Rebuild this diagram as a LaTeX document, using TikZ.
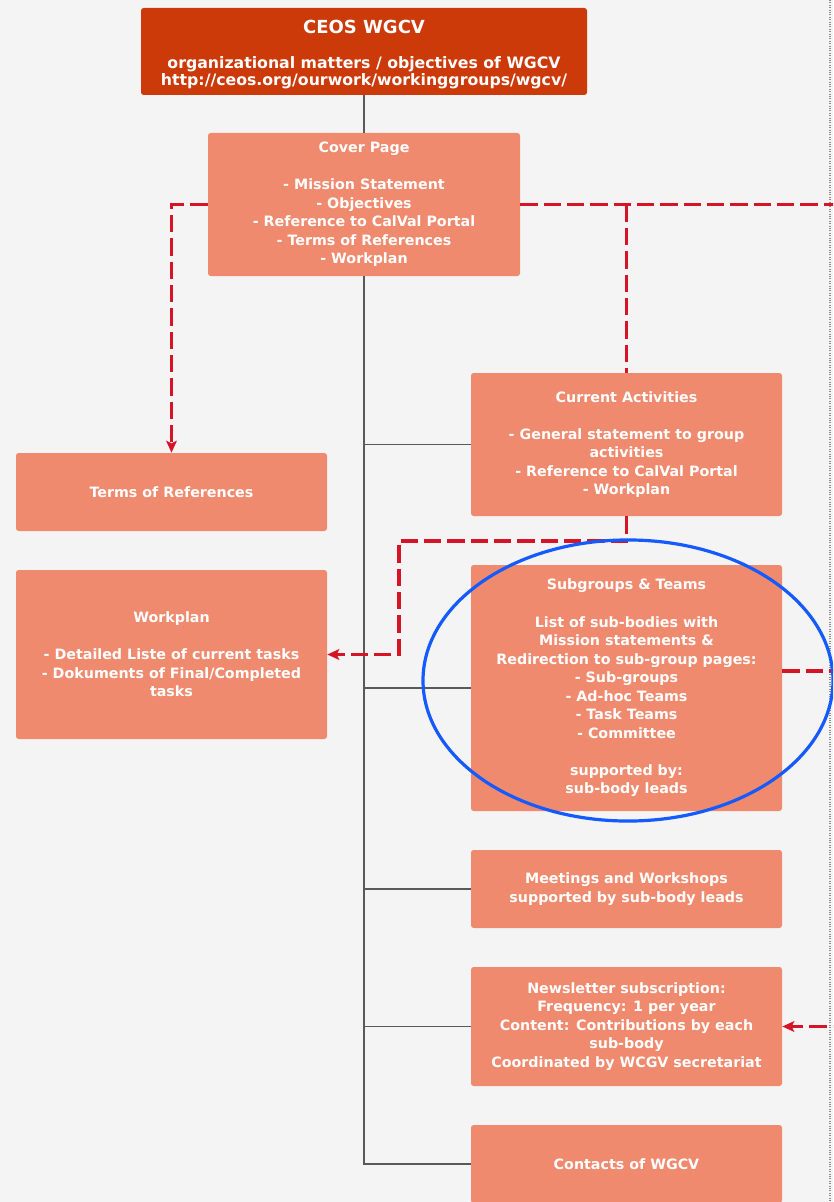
\documentclass[tikz,border=0pt]{standalone}
\usepackage{fontspec}
\setmainfont{DejaVu Sans}
\usetikzlibrary{arrows.meta}

\definecolor{wgcvdark}{RGB}{204,58,10}
\definecolor{wgcvpage}{RGB}{240,138,110}
\definecolor{linkred}{RGB}{214,20,40}
\definecolor{ringblue}{RGB}{20,90,255}
\definecolor{sheet}{RGB}{244,244,244}

\begin{document}
\begin{tikzpicture}[x=0.75pt,y=-0.75pt,
    page/.style={fill=wgcvpage,rounded corners=2pt,text=white,align=center,
      inner sep=0pt,minimum width=233.25pt,
      font=\bfseries\fontsize{10.7}{13.9}\selectfont},
    trunk/.style={draw=black!65,line width=1.2pt},
    link/.style={draw=linkred,line width=2.6pt,dash pattern=on 13pt off 4.5pt},
    tip/.style={-{Stealth[length=9pt,width=8pt,inset=2pt]}}]
  \useasboundingbox (0,0) rectangle (833,1202);
  \clip (0,0) rectangle (833,1202);
  \fill[sheet] (0,0) rectangle (833,1202);
  \draw[black!45,densely dotted,line width=0.8pt] (830,0) -- (830,1202);

  % pages
  \node[page,fill=wgcvdark,minimum width=334.5pt,minimum height=65.25pt,
        font=\bfseries\fontsize{11.8}{13}\selectfont] (wgcv) at (364,51.5)
    {{\fontsize{13.5}{16}\selectfont\rule{0pt}{15pt}CEOS WGCV}\\[13pt]
     organizational matters / objectives of WGCV\\
     http://ceos.org/ourwork/workinggroups/wgcv/};
  \node[page,minimum width=234pt,minimum height=107.25pt] (cover) at (364,204.5)
    {Cover Page\\[13.9pt]
     - Mission Statement\\ - Objectives\\ - Reference to CalVal Portal\\
     - Terms of References\\ - Workplan};
  \node[page,minimum height=58.5pt] (terms) at (171.5,492) {Terms of References};
  \node[page,minimum height=126.75pt] (workplan) at (171.5,654.5)
    {Workplan\\[13.9pt]
     - Detailed Liste of current tasks\\ - Dokuments of Final/Completed\\ tasks};
  \node[page,minimum height=107.25pt] (current) at (626.5,444.5)
    {Current Activities\\[13.9pt]
     - General statement to group\\ activities\\
     - Reference to CalVal Portal\\ - Workplan};
  \node[page,minimum height=184.5pt] (subgroups) at (626.5,688)
    {Subgroups \& Teams\\[13.9pt]
     List of sub-bodies with\\ Mission statements \&\\
     Redirection to sub-group pages:\\ - Sub-groups\\ - Ad-hoc Teams\\
     - Task Teams\\ - Committee\\[13.9pt]
     supported by:\\ sub-body leads};
  \node[page,minimum height=58.5pt] (meetings) at (626.5,889)
    {Meetings and Workshops\\ supported by sub-body leads};
  \node[page,minimum height=89.25pt] (newsletter) at (626.5,1026.5)
    {Newsletter subscription:\\ Frequency: 1 per year\\
     Content: Contributions by each\\ sub-body\\
     Coordinated by WCGV secretariat};
  \node[page,minimum height=58.5pt] (contacts) at (626.5,1164) {Contacts of WGCV};

  % tree
  \coordinate (trunkend) at (364,1164);
  \draw[trunk] (wgcv) -- (cover);
  \draw[trunk] (cover) -- (trunkend) -- (contacts);
  \foreach \p in {current,subgroups,meetings,newsletter}
    \draw[trunk] (\p.west) -- (\p.west -| trunkend);

  % cross links
  \coordinate (offA) at (850,204.5);
  \coordinate (offB) at (850,671);
  \coordinate (offC) at (850,1026.5);
  \coordinate (knee) at (399,541);
  \draw[link,tip] (cover.west) -| (terms.north);
  \draw[link] (cover.east) -- (offA);
  \draw[link] (cover.east -| current.north) -- (current.north);
  \draw[link,tip] (current.south) |- (knee) |- (workplan.east);
  \draw[link] (subgroups.east |- offB) -- (offB);
  \draw[link,tip] (offC) -- (newsletter.east);

  % highlight
  \draw[ringblue,line width=2.4pt] (628,680.5) ellipse [x radius=153.75pt,y radius=105.4pt];
\end{tikzpicture}
\end{document}
